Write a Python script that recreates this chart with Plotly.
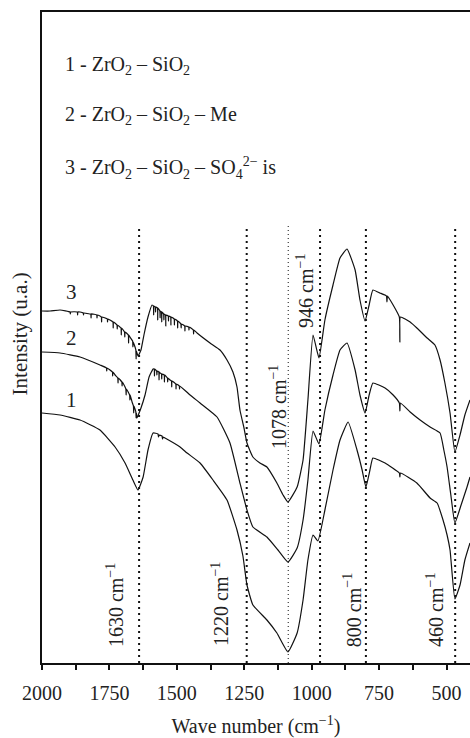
import plotly.graph_objects as go

# ---------------- data ----------------
wn3 = [2000, 1970, 1933,
       1896, 1895, 1894, 1869, 1868, 1867, 1859, 1847, 1846, 1845, 1822,
       1819, 1818, 1817, 1797, 1796, 1795, 1785, 1780, 1779, 1778, 1758, 1757, 1756, 1748,
       1737, 1736, 1735, 1722, 1721, 1720, 1711, 1707, 1706, 1705, 1694, 1693, 1692,
       1680, 1679, 1678, 1674, 1664, 1663, 1662, 1655, 1652, 1651, 1650, 1644, 1633,
       1622, 1607, 1592,
       1587, 1586, 1585, 1580, 1579, 1578, 1572, 1571, 1570, 1563, 1562, 1561,
       1557, 1556, 1555, 1549, 1548, 1547, 1542, 1541, 1540, 1532, 1531, 1530,
       1523, 1522, 1521, 1510, 1509, 1508, 1498, 1497, 1496, 1488, 1485, 1484, 1483,
       1471, 1470, 1469, 1456, 1455, 1454, 1439, 1438, 1437, 1425, 1377, 1340, 1314, 1292,
       1277, 1266, 1251, 1240, 1218, 1192, 1166, 1129, 1106, 1088, 1054, 1032, 1014, 995, 973,
       951, 921, 895, 869, 839, 821, 802, 787, 773, 747, 723, 721, 719, 698, 675, 673, 671, 635,
       610, 572, 543, 524, 506, 487, 469, 450, 432, 413]
int3 = [352, 352, 353,
        351, 349, 351, 351, 348, 351, 351, 350, 348, 350, 349,
        349, 345, 349, 348, 345, 348, 347, 346, 341, 346, 344, 341, 344, 343,
        341, 335, 341, 338, 334, 338, 336, 335, 328, 335, 331, 326, 331,
        328, 320, 328, 326, 322, 316, 321, 316, 313, 304, 312, 307, 313,
        328, 346, 358,
        357, 348, 357, 356, 351, 356, 355, 343, 355, 352, 345, 352,
        351, 341, 351, 349, 343, 349, 348, 337, 348, 347, 342, 347,
        346, 338, 346, 344, 338, 344, 342, 335, 342, 340, 339, 335, 339,
        337, 332, 337, 336, 333, 336, 333, 329, 333, 330, 320, 313, 303, 291,
        276, 253, 235, 220, 206, 200, 196, 180, 168, 161, 176, 203, 263, 328, 305,
        343, 378, 405, 414, 393, 363, 342, 358, 373, 370, 367, 361, 367, 358, 346, 321, 346, 341,
        335, 325, 318, 303, 280, 250, 211, 228, 248, 263]

wn2 = [2000, 1933, 1859, 1785,
       1761, 1760, 1759, 1739, 1738, 1737, 1729, 1719, 1718, 1717, 1704, 1703, 1702, 1692,
       1689, 1688, 1687, 1675, 1674, 1673, 1666, 1661, 1660, 1659, 1652, 1651, 1650, 1648,
       1633, 1618, 1603, 1588,
       1584, 1583, 1582, 1575, 1574, 1573, 1567, 1566, 1565, 1562, 1557, 1556, 1555,
       1547, 1546, 1545, 1535, 1534, 1533, 1525, 1520, 1519, 1518, 1504, 1503, 1502,
       1491, 1490, 1489, 1451, 1414, 1351, 1303, 1266, 1240, 1218, 1166, 1125, 1088, 1054, 1032,
       1014, 995, 973, 951, 921, 895, 869, 839, 821, 802, 787, 773, 728, 698, 675, 673, 671, 635,
       598, 561, 524, 510, 498, 484, 469, 446, 424, 413]
int2 = [311, 310, 306, 298,
        295, 292, 295, 291, 287, 291, 288, 285, 280, 285, 281, 277, 281, 276,
        274, 268, 274, 268, 263, 268, 261, 257, 250, 257, 251, 245, 250, 245,
        255, 268, 286, 294,
        294, 287, 294, 292, 288, 292, 291, 283, 291, 290, 289, 284, 289,
        288, 281, 288, 285, 281, 285, 283, 282, 276, 282, 279, 274, 279,
        277, 274, 277, 268, 260, 246, 220, 180, 153, 136, 126, 113, 101, 115, 143,
        183, 232, 219, 253, 288, 313, 320, 293, 268, 250, 268, 280, 275, 268, 260, 252, 260, 251,
        243, 236, 230, 213, 196, 168, 140, 158, 176, 186]

wn1 = [2000, 1933, 1859, 1785, 1729, 1692, 1663, 1644, 1625, 1607, 1588, 1570, 1568, 1566, 1555,
       1553, 1551, 1544, 1488, 1462, 1414, 1366, 1314, 1277, 1255, 1240, 1218, 1166, 1129, 1088,
       1054, 1032, 1014, 995, 977, 951, 921, 895, 865, 832, 813, 799, 784, 773, 728, 675, 673,
       671, 610, 561, 535, 513, 498, 487, 469, 450, 432, 413]
int1 = [250, 248, 243, 233, 216, 200, 183, 173, 186, 213, 230, 229, 226, 228, 227,
        224, 226, 225, 216, 210, 200, 183, 163, 133, 107, 78, 58, 43, 30, 11,
        30, 63, 103, 128, 122, 153, 193, 223, 241, 213, 193, 176, 193, 205, 200, 190, 186,
        190, 180, 165, 160, 143, 128, 113, 64, 78, 103, 120]

series_names = ["1 - ZrO<sub>2</sub> – SiO<sub>2</sub>",
                "2 - ZrO<sub>2</sub> – SiO<sub>2</sub> – Me",
                "3 - ZrO<sub>2</sub> – SiO<sub>2</sub> – SO<sub>4</sub><sup>2−</sup> is"]
curve_numbers = ["1", "2", "3"]

band_pos = [1640, 1241, 1087, 969, 799, 468]          # drawn positions of the dotted markers
band_labels = ["1630 cm<sup>−1</sup>", "1220 cm<sup>−1</sup>", "1078 cm<sup>−1</sup>",
               "946 cm<sup>−1</sup>", "800 cm<sup>−1</sup>", "460 cm<sup>−1</sup>"]

x_ticks = [2000, 1750, 1500, 1250, 1000, 750, 500]
x_tick_labels = ["2000", "1750", "1500", "1250", "1000", "750", "500"]

# ---------------- figure ----------------
FONT = "Liberation Serif, Times New Roman, serif"
TXT = "#222222"

fig = go.Figure()
for xs, ys, nm in [(wn1, int1, series_names[0]), (wn2, int2, series_names[1]), (wn3, int3, series_names[2])]:
    fig.add_trace(go.Scatter(x=xs, y=ys, mode="lines", name=nm,
                             line=dict(color="#111111", width=1.2, shape="spline", smoothing=0.4),
                             showlegend=False))

# dotted band markers
for i, p in enumerate(band_pos):
    fine = band_labels[i].startswith("1078")
    fig.add_shape(type="line", xref="x", yref="y", x0=p, x1=p, y0=0, y1=438,
                  line=dict(color="#111111", width=1 if fine else 2,
                            dash="1px,3px" if fine else "2px,4px"), layer="below")

# band labels (rotated)
label_xy = [(1729, 58), (1340, 59), (1125, 256), (1025, 372), (850, 53), (543, 53)]
for (lx, ly), t in zip(label_xy, band_labels):
    fig.add_annotation(x=lx, y=ly, xref="x", yref="y", text=t, textangle=-90,
                       showarrow=False, font=dict(family=FONT, size=20, color=TXT))

# curve numbers
num_xy = [(1889, 263), (1889, 325), (1889, 371)]
for (nx, ny), t in zip(num_xy, curve_numbers):
    fig.add_annotation(x=nx, y=ny, xref="x", yref="y", text=t, showarrow=False,
                       font=dict(family=FONT, size=21, color=TXT))

# legend-like text block
leg_y = [598, 548, 495]
for ty, t in zip(leg_y, series_names):
    fig.add_annotation(x=1922, y=ty, xref="x", yref="y", text=t, showarrow=False,
                       xanchor="left", font=dict(family=FONT, size=20, color=TXT))

# y axis title
fig.add_annotation(x=-0.051, y=0.505, xref="paper", yref="paper", text="Intensity (u.a.)",
                   textangle=-90, showarrow=False, xanchor="center", yanchor="middle",
                   font=dict(family=FONT, size=21, color=TXT))

fig.update_layout(
    width=470, height=738,
    margin=dict(l=42, r=0, t=12, b=75),
    paper_bgcolor="white", plot_bgcolor="white",
    font=dict(family=FONT, size=20, color=TXT),
    xaxis=dict(range=[2000, 413], autorange=False, tickmode="array",
               tickvals=x_ticks, ticktext=x_tick_labels,
               ticks="outside", ticklen=5, tickwidth=2, tickcolor="#111111",
               minor=dict(dtick=125, tick0=0, ticks="outside", ticklen=5, tickwidth=2, tickcolor="#111111"),
               showline=True, linewidth=2, linecolor="#111111", mirror=True,
               showgrid=False, zeroline=False, ticklabelstandoff=6,
               tickfont=dict(family=FONT, size=20, color=TXT),
               title=dict(text="Wave number (cm<sup>−1</sup>)", font=dict(family=FONT, size=20, color=TXT),
                          standoff=21)),
    yaxis=dict(range=[0, 651], autorange=False, showticklabels=False, ticks="",
               showline=True, linewidth=2, linecolor="#111111",
               showgrid=False, zeroline=False),
)

fig.write_html("out.html", config={"displayModeBar": False},
               post_script="document.body.style.margin='0';")
